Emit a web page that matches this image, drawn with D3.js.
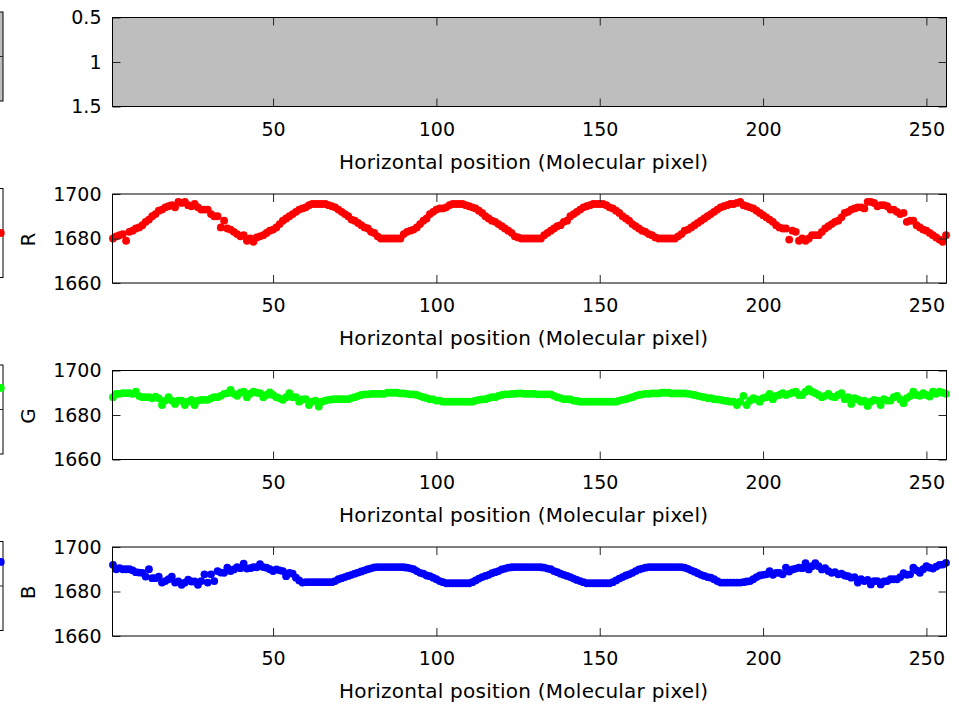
<!DOCTYPE html>
<meta charset="utf-8">
<style>
body {
	margin: 0;
	background: #fff;
}
svg {
	display: block;
}
.axis text {
	font: 19px "DejaVu Sans";
	fill: #000;
}
.axis line {
	stroke: #262626;
}
.axis path {
	display: none;
}
.label {
	font: 20px "DejaVu Sans";
	fill: #000;
}
.frame {
	fill: none;
	stroke: #000;
}
</style>
<body>
<svg width="959" height="705"></svg>

<script src="https://d3js.org/d3.v7.min.js"></script>
<script>

var xTicks = [50, 100, 150, 200, 250];
var yTicksImg = [0.5, 1, 1.5];
var yTicksRGB = [1660, 1680, 1700];
var channels = ["R", "G", "B"];
var colors = ["#ff0000", "#00ff00", "#0000ff"];
var xLabel = "Horizontal position (Molecular pixel)";

var valuesR = [
	1680,1681,1681.5,1682,1679,1683,1683.5,1684.5,1685,1686,1687.5,1688.5,1690,1691,1692.5,1693,
	1694,1694.5,1695,1694,1696.5,1696,1696.5,1695,1694.5,1695.5,1694,1693,1693,1693,1691,1690,
	1690,1685,1688,1684.5,1684,1683,1682,1681,1681.5,1679,1680,1678.5,1680.5,1681,1681.5,1682.5,
	1683.5,1684,1685,1686.5,1688,1689,1690,1691,1692,1693,1693.5,1694,1695,1695.5,1695.5,1695.5,
	1695.5,1695.5,1695,1694.5,1694,1693,1692,1691,1690,1688.5,1688,1687,1686,1685,1684.5,1683,
	1682.5,1681,1680,1680,1680,1680,1680,1680,1680,1682,1683,1683.5,1684,1685,1686.5,1688,
	1689,1691,1692,1693,1693.5,1693.5,1694,1695,1695.5,1695.5,1695.5,1695.5,1695,1694.5,1694,1693.5,
	1692.5,1691.5,1690,1689,1688,1687.5,1686.5,1685.5,1684.5,1683.5,1682.5,1681,1680.5,1680,1680,1680,
	1680,1680,1680,1680,1681.5,1682.5,1683.5,1684.5,1685.5,1686,1687.5,1688,1690,1691,1692,1693,
	1694,1694.5,1695,1695.5,1695.5,1695.5,1695.5,1695,1694,1693.5,1692.5,1691.5,1690,1689,1688,1686.5,
	1685.5,1684.5,1683.5,1683,1682,1681.5,1680.5,1680,1680,1680,1680,1680,1680,1681,1682,1683.5,
	1684,1685,1686,1687,1688,1689,1690,1691,1692,1693,1694,1694.5,1695,1695.5,1695.5,1696,
	1696.5,1695,1694.5,1694,1693.5,1692.5,1691.5,1690.5,1689.5,1688.5,1687.5,1686,1685,1684.5,1684.5,1679.5,
	1683.5,1683,1679,1680,1679,1680,1681.5,1681.5,1681.5,1683,1684.5,1685.5,1686.5,1687.5,1688,1689.5,
	1691.5,1692,1693,1693.5,1694,1694,1693.5,1696.5,1696.5,1696,1694.5,1695,1695,1694.5,1693,1693,
	1692,1691,1691.5,1687.5,1688,1688,1686,1685,1684,1683.5,1682.5,1681.5,1680.5,1679.5,1678.5,1681.5
];

var valuesG = [
	1688,1689.5,1689.5,1689.8,1689.8,1689.8,1689.5,1690.5,1688.5,1688,1688,1688,1687.5,1688.3,1687.5,1684.5,
	1686.5,1688,1686.5,1685,1686.5,1686.5,1684.5,1686,1686.8,1684.5,1686.5,1686.8,1686.8,1686.8,1687.5,1688,
	1688,1688.6,1689.5,1689.8,1691.3,1689.5,1688.6,1690,1690.5,1688,1689.5,1690.5,1690,1689.8,1688,1689,
	1690.2,1689,1688,1687.5,1686.8,1688,1689.8,1688,1688,1686,1687,1687.1,1684.5,1686,1686.5,1683.8,
	1686,1686.5,1686.8,1687,1687.1,1687.1,1687.1,1687.1,1687.1,1687.6,1688,1688.5,1689,1689.3,1689.3,1689.5,
	1689.5,1689.5,1689.5,1689.5,1690,1690,1690,1690,1689.7,1689.7,1689.5,1689.3,1689.3,1689,1688.5,1688,
	1687.6,1687.1,1687,1686.5,1686.5,1686,1686,1686,1686,1686,1686,1686,1686,1686,1686,1686.5,
	1686.8,1687,1687.1,1687.6,1688,1688,1688.6,1689,1689.3,1689.3,1689.5,1689.5,1689.7,1689.7,1689.5,1689.5,
	1689.5,1689.5,1689.3,1689.3,1689.3,1689.3,1689.3,1688.6,1688,1687.6,1687.1,1687.1,1687,1686.5,1686.3,1686,
	1686,1686,1686,1686,1686,1686,1686,1686,1686,1686,1686,1686.5,1686.8,1687.1,1687.6,1688,
	1688.6,1689,1689.3,1689.5,1689.5,1689.7,1689.7,1689.7,1690,1690,1690,1689.7,1689.7,1689.7,1689.7,1689.7,
	1689.5,1689.3,1689,1688.6,1688.3,1688,1687.6,1687.6,1687.1,1687,1686.8,1686.5,1686.3,1686,1686,1684.5,
	1686,1688.6,1684.5,1686.5,1687.6,1687,1686,1687.6,1688,1689.5,1687.1,1688.6,1689,1689.8,1689,1689.5,
	1690,1690.5,1689,1689,1690.5,1691.6,1690.5,1689.8,1689,1688,1688.6,1689.5,1688.3,1688,1689,1689.8,
	1687.1,1688,1685,1687.6,1687,1686,1686.5,1684.1,1686,1686.8,1686.5,1684.5,1687.1,1686.5,1686.5,1688,
	1688.6,1687,1685.3,1687.6,1688.5,1690.5,1689,1688.6,1689.8,1689,1688.3,1690.5,1689.5,1690.5,1690,1689.5
];

var valuesB = [
	1692,1690,1690.5,1690,1690,1690,1689.5,1688.7,1688.5,1688.4,1686.7,1690,1686,1686,1686.7,1684,
	1684.7,1685.5,1686.7,1684,1684.5,1683,1684,1685.3,1684.5,1684.5,1683,1684.7,1687.7,1684,1687.7,1684.7,
	1689.2,1688.5,1688.4,1690.7,1689.2,1689.9,1690.9,1690.5,1692.5,1690.3,1690.5,1690.9,1690.9,1692.3,1691,1690.7,
	1690,1689.2,1689.9,1689.5,1689.2,1686.9,1688.4,1688,1686.2,1685,1684,1684.2,1684.2,1684.2,1684.2,1684.2,
	1684.2,1684.2,1684.2,1684.2,1684.7,1685.5,1686,1686.5,1687,1687.5,1688,1688.5,1689,1689.5,1690,1690.4,
	1690.8,1691,1691,1691,1691,1691,1691,1691,1691,1690.9,1690.7,1690.4,1690,1689.2,1688.4,1688,
	1687.2,1686.9,1686.2,1685.5,1684.7,1684.2,1683.7,1683.7,1683.7,1683.7,1683.7,1683.7,1683.7,1683.7,1684.2,1685,
	1685.8,1686.5,1687,1687.5,1688.2,1688.7,1689.2,1689.9,1690.3,1690.7,1690.9,1691,1691,1691,1691,1691,
	1691,1691,1691,1690.9,1690.7,1690.3,1690,1689.2,1688.7,1688,1687.5,1687,1686.5,1685.8,1685.2,1684.7,
	1684.2,1683.7,1683.7,1683.7,1683.7,1683.7,1683.7,1683.7,1683.7,1684.2,1685,1685.8,1686.5,1687.2,1687.7,1688.4,
	1689.2,1689.9,1690.3,1690.7,1691,1691,1691,1691,1691,1691,1691,1691,1691,1691,1691,1690.7,
	1690.2,1689.5,1688.9,1688.2,1687.5,1687,1686.5,1686.2,1685.5,1684.7,1684,1684,1684,1684,1684,1684,
	1684,1684.2,1684.5,1684.7,1685.5,1686.5,1687.2,1687.5,1687.7,1689.2,1687.5,1688.4,1688.4,1687.7,1690.7,1689,
	1689.9,1690.3,1690.7,1690.5,1692.7,1689.9,1691.4,1692.7,1691.4,1689.9,1690.5,1689.2,1688.4,1688.7,1687.7,1688,
	1687.2,1686.9,1686.2,1686.5,1684,1685.5,1684.7,1685.2,1683.2,1684.7,1684.7,1683.2,1684.5,1684.7,1685.5,1685.5,
	1685.5,1686.5,1688.2,1687.5,1687.7,1690.7,1689.5,1688.4,1690,1691.4,1690.7,1690.3,1691.2,1692,1692.1,1692.9
];

// last visible value of each series in the cut-off panel on the left edge
var leftLast = [1680, 1689.7, 1690.8];

var series = [valuesR, valuesG, valuesB];

var left = 112.5, right = 946.5;
var panelH = 89;
var tops = [17.5, 194, 370.5, 547];
var leftShift = 5.5;

var svg = d3.select("svg");

var x = d3.scaleLinear()
	.domain([1, 256])
	.range([left + 0.5, right - 0.5]);

function drawAxes(g, y, yTicks) {
	g.append("g")
		.attr("class", "axis")
		.attr("transform", "translate(0," + panelH + ")")
		.call(d3.axisBottom(x).tickValues(xTicks).tickSize(-8).tickPadding(16));
	g.append("g")
		.attr("class", "axis")
		.call(d3.axisTop(x).tickValues(xTicks).tickSize(-8).tickFormat(""));
	g.append("g")
		.attr("class", "axis")
		.attr("transform", "translate(" + left + ",0)")
		.call(d3.axisLeft(y).tickValues(yTicks).tickSize(-8).tickPadding(11).tickFormat(function(d) { return String(d); }));
	g.append("g")
		.attr("class", "axis")
		.attr("transform", "translate(" + right + ",0)")
		.call(d3.axisRight(y).tickValues(yTicks).tickSize(-8).tickFormat(""));
	g.append("rect")
		.attr("class", "frame")
		.attr("x", left)
		.attr("y", 0)
		.attr("width", right - left)
		.attr("height", panelH);
	g.append("text")
		.attr("class", "label")
		.attr("x", 523.5)
		.attr("y", panelH + 62)
		.attr("text-anchor", "middle")
		.attr("textLength", 369)
		.attr("lengthAdjust", "spacing")
		.text(xLabel);
}

// top panel: constant image
var g0 = svg.append("g").attr("transform", "translate(0," + tops[0] + ")");
var yImg = d3.scaleLinear().domain([0.5, 1.5]).range([0, panelH]);
g0.append("rect")
	.attr("x", left)
	.attr("y", 0)
	.attr("width", right - left)
	.attr("height", panelH)
	.attr("fill", "#bebebe");
drawAxes(g0, yImg, yTicksImg);

// R, G, B panels
series.forEach(function(vals, k) {
	var g = svg.append("g").attr("transform", "translate(0," + tops[k + 1] + ")");
	var y = d3.scaleLinear().domain([1660, 1700]).range([panelH, 0]);
	g.selectAll("circle")
		.data(vals)
		.enter().append("circle")
		.attr("cx", function(d, i) { return x(i + 1); })
		.attr("cy", function(d) { return y(d); })
		.attr("r", 3.9)
		.attr("fill", colors[k]);
	drawAxes(g, y, yTicksRGB);
	g.append("text")
		.attr("class", "label")
		.attr("transform", "translate(35," + (panelH / 2 + 1) + ") rotate(-90)")
		.attr("text-anchor", "middle")
		.text(channels[k]);
});

// neighbouring panels cut off by the left edge
tops.forEach(function(t, k) {
	var g = svg.append("g").attr("transform", "translate(0," + (t - leftShift) + ")");
	g.append("rect")
		.attr("x", -300)
		.attr("y", 0)
		.attr("width", 303)
		.attr("height", panelH)
		.attr("fill", k == 0 ? "#bebebe" : "none")
		.attr("stroke", "#000");
	g.append("line")
		.attr("x1", -5).attr("x2", 3)
		.attr("y1", panelH / 2).attr("y2", panelH / 2)
		.attr("stroke", "#262626");
	if (k > 0) {
		var y = d3.scaleLinear().domain([1660, 1700]).range([panelH, 0]);
		g.append("circle")
			.attr("cx", 0.8)
			.attr("cy", y(leftLast[k - 1]))
			.attr("r", 3.9)
			.attr("fill", colors[k - 1]);
	}
});

</script>
</body>
